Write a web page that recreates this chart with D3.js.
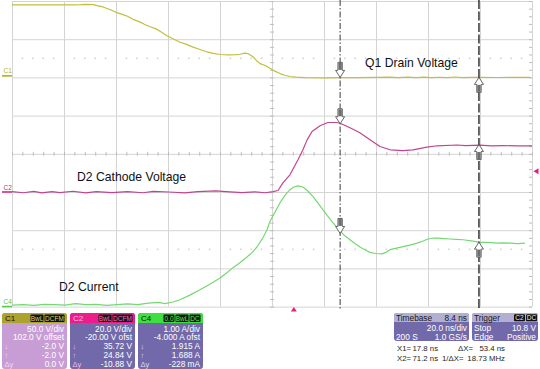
<!DOCTYPE html>
<html><head><meta charset="utf-8">
<script src="https://cdn.jsdelivr.net/npm/d3@7"></script>
<style>
body{margin:0;background:#fff;}
svg{display:block;font-family:"Liberation Sans",Arial,sans-serif;}
</style></head><body>
<svg id="c" width="540" height="369"></svg>
<script>
// ---------------- DATA ----------------
const chNames   = ["C1", "C2", "C4"];
const chVdiv    = [50, 20, 1];          // units per division
const chOffset  = [102, -20, -4];       // offset shown on scope
const chColors  = ["#c4bd3e", "#c2448f", "#74d874"];
const timeDomain = [-108.4, 91.6];      // ns across 10 divisions (20 ns/div)

// C1 : Q1 drain voltage (V)
const c1Trace = [[-108.4,93.0],[-95,93.0],[-85,93.0],[-82,93.2],[-79.6,93.6],[-77,93.3],[-75.7,92.0],[-73.4,90.2],
 [-70.5,86.5],[-68.4,83.2],[-66,80.5],[-64,78.0],[-61.9,74.0],[-59.5,71.0],[-57.5,67.5],[-55.3,64.3],[-53,61.5],
 [-51,57.5],[-48.8,52.5],[-46.5,48.5],[-43.8,44.0],[-41.5,41.5],[-39,38.0],[-36.1,34.5],[-33.5,31.5],[-31,29.5],
 [-28.4,28.0],[-25,27.5],[-22,27.8],[-20.7,28.3],[-18.8,29.8],[-17.5,29.0],[-15.7,25.0],[-14.5,20.5],[-13,16.0],
 [-11,13.5],[-9.2,10.0],[-7.5,6.5],[-5.3,3.0],[-3.5,0.8],[-1.5,-0.8],[1,-1.6],[4.3,-2.2],[11.6,-2.5],[17.8,-2.4],
 [25,-2.2],[32,-2.0],[37,-1.6],[40,-2.2],[44,-1.7],[47,-2.3],[50,-1.6],[53,-2.4],[56,-1.8],[59,-2.2],[62,-1.5],
 [65,-2.3],[68,-1.9],[72,-2.0],[78,-2.1],[85,-2.0],[91,-1.9]];

// C2 : D2 cathode voltage (V)
const c2Trace = [[-108.4,0.2],[-104,-0.4],[-100,0.3],[-97,-0.5],[-93,0.2],[-90,-0.3],[-85,0.4],[-80,-0.5],[-76,0.2],
 [-70,-0.3],[-64,0.2],[-58,-0.4],[-54,0.3],[-48,0.0],[-42,-0.5],[-37,0.2],[-30,0.6],[-26,0.2],[-20,-0.3],[-15,0.1],
 [-11,-0.4],[-8,0.2],[-6.1,0.8],[-4.2,4.8],[-1.5,9.0],[1.6,16.9],[3.5,22.1],[5.1,27.3],[7.0,31.7],[10.1,34.7],
 [13.1,36.4],[16.6,36.4],[17.8,36.0],[21.6,33.6],[25.4,31.0],[29.3,27.3],[33.1,23.8],[37.0,22.1],[42.0,21.7],
 [45.8,22.1],[51.2,23.5],[55.1,24.2],[62.8,24.6],[66,24.3],[71.6,24.5],[76,24.2],[80.4,24.3],[86,24.1],[91.6,24.2]];

// C4 : D2 current (A)
const c4Trace = [[-108.4,0.04],[-104,0.05],[-100,0.03],[-96,0.06],[-92,0.05],[-88,0.04],[-84,0.08],[-80,0.05],
 [-76,0.06],[-72,0.03],[-68,0.05],[-64,0.07],[-60,0.05],[-56,0.09],[-52,0.11],[-49.6,0.08],[-46.5,0.12],[-43.8,0.18],
 [-40,0.3],[-36.1,0.44],[-32,0.6],[-28.4,0.75],[-25.5,0.9],[-23.4,1.02],[-20.5,1.16],[-18,1.3],[-16,1.42],[-14.2,1.56],
 [-11.9,1.8],[-10.3,2.01],[-9.2,2.23],[-7.2,2.48],[-5.3,2.72],[-3.2,2.93],[-1.5,3.06],[0,3.13],[1.6,3.16],[3.5,3.13],
 [5.5,3.02],[7.4,2.88],[9.3,2.71],[11.2,2.53],[13.1,2.36],[15.1,2.19],[17.8,1.98],[19.5,1.86],[21.6,1.75],[23.5,1.65],
 [25.4,1.56],[27.3,1.49],[29.3,1.42],[31.5,1.39],[33.9,1.38],[35.5,1.42],[37,1.49],[39.5,1.53],[42,1.57],[44.7,1.61],
 [47.4,1.66],[49.5,1.71],[51.6,1.77],[53.5,1.79],[55.4,1.79],[57.8,1.78],[60.1,1.77],[62.6,1.76],[65.1,1.75],
 [68.2,1.72],[71.6,1.68],[75,1.68],[78.1,1.66],[80.5,1.67],[83.1,1.66],[86,1.65],[88.9,1.66]];

const cursorTimes = [17.8, 71.2];
const cursorX1Values = [-2.0, 35.72, 1.915];
const cursorX2Values = [-2.0, 24.84, 1.688];
const triggerLevel = 10.8;   // on C2
const triggerTime = 0;

const traceLabels = ["Q1 Drain Voltage", "D2 Cathode Voltage", "D2 Current"];

const panelC1 = ["50.0 V/div", "102.0 V offset", "-2.0 V", "-2.0 V", "0.0 V"];
const panelC2 = ["20.0 V/div", "-20.00 V ofst", "35.72 V", "24.84 V", "-10.88 V"];
const panelC4 = ["1.00 A/div", "-4.000 A ofst", "1.915 A", "1.688 A", "-228 mA"];
const panelBadges = [["BwL","DCFM"],["BwL","DCFM"],["0.0","BwL","DC"]];
const timebaseText = ["Timebase", "8.4 ns", "20.0 ns/div", "200 S", "1.0 GS/s"];
const triggerText = ["Trigger", "C2", "DC", "Stop", "10.8 V", "Edge", "Positive"];
const cursorReadout = [["X1=", "17.8 ns", "\u0394X=", "53.4 ns"], ["X2=", "71.2 ns", "1/\u0394X=", "18.73 MHz"]];

// ---------------- LAYOUT ----------------
const svg = d3.select("#c");
const plotL = 12, plotR = 532, plotT = 1, plotB = 306.6;
const x = d3.scaleLinear().domain(timeDomain).range([plotL, plotR]);
const divX = d3.scaleLinear().domain([0, 10]).range([plotL, plotR]);
const divY = d3.scaleLinear().domain([-4, 4]).range([plotB, plotT]);
const yScales = chVdiv.map((s, i) => d3.scaleLinear().domain([-4 * s - chOffset[i], 4 * s - chOffset[i]]).range([plotB, plotT]));

// grid
const gx = svg.append("g").attr("transform", `translate(0,${plotB})`)
  .call(d3.axisBottom(divX).tickValues(d3.range(0, 11)).tickSize(-(plotB - plotT)).tickFormat(""));
gx.select(".domain").remove();
gx.selectAll("line").attr("stroke", "#d4d4d4").attr("stroke-width", 1);
const gy = svg.append("g").attr("transform", `translate(${plotL},0)`)
  .call(d3.axisLeft(divY).tickValues(d3.range(-4, 5)).tickSize(-(plotR - plotL)).tickFormat(""));
gy.select(".domain").remove();
gy.selectAll("line").attr("stroke", "#d4d4d4").attr("stroke-width", 1);

// minor ticks on centre lines and right border
const minorX = d3.range(0, 51).map(i => i / 5);
const minorY = d3.range(0, 41).map(i => -4 + i / 5);
const mt1 = svg.append("g").attr("transform", `translate(0,${divY(0) + 2})`)
  .call(d3.axisBottom(divX).tickValues(minorX).tickSize(-4).tickFormat(""));
const mt2 = svg.append("g").attr("transform", `translate(${divX(5) + 2},0)`)
  .call(d3.axisLeft(divY).tickValues(minorY).tickSize(4).tickFormat(""));
const mt3 = svg.append("g").attr("transform", `translate(${plotR},0)`)
  .call(d3.axisLeft(divY).tickValues(minorY).tickSize(3).tickFormat(""));
[mt1, mt2, mt3].forEach(g => { g.select(".domain").remove(); g.selectAll("line").attr("stroke", "#bdbdbd"); });

// dotted reference lines
[2.5, -2.5].forEach(lv => {
  svg.append("g").selectAll("rect").data(minorX.filter((v, i) => i % 5 !== 0)).join("rect")
    .attr("x", d => divX(d) - 0.75).attr("y", divY(lv) - 0.75).attr("width", 1.5).attr("height", 1.5)
    .attr("fill", "#cfcfcf");
});

// traces
[c1Trace, c2Trace, c4Trace].forEach((tr, i) => {
  const ys = yScales[i];
  svg.append("path").datum(tr)
    .attr("d", d3.line().x(d => x(d[0])).y(d => ys(d[1])))
    .attr("fill", "none").attr("stroke", chColors[i]).attr("stroke-width", 1.2)
    .attr("stroke-linejoin", "round");
});

// channel ground markers on the left
const markerColors = ["#b5ae2a", "#d0287f", "#4fc84f"];
chNames.forEach((n, i) => {
  const y0 = yScales[i](0);
  svg.append("line").attr("x1", 2).attr("x2", 12).attr("y1", y0).attr("y2", y0)
    .attr("stroke", markerColors[i]).attr("stroke-width", 1.6);
  svg.append("text").attr("x", 3.5).attr("y", y0 - 2.5).text(n)
    .attr("font-size", 6.5).attr("fill", markerColors[i]);
});

// trigger markers
const tx = x(triggerTime);
svg.append("path").attr("d", `M${tx - 3},${plotB + 5} L${tx + 3},${plotB + 5} L${tx},${plotB + 0.5} Z`).attr("fill", "#e3217d");
const ty = yScales[1](triggerLevel);
svg.append("path").attr("d", `M538.5,${ty - 3} L538.5,${ty + 3} L533.5,${ty} Z`).attr("fill", "#e3217d");

// cursors
const cx1 = x(cursorTimes[0]), cx2 = x(cursorTimes[1]);
svg.append("line").attr("x1", cx1).attr("x2", cx1).attr("y1", 0).attr("y2", plotB + 2)
  .attr("stroke", "#3a3a3a").attr("stroke-width", 1).attr("stroke-dasharray", "6,2,1.5,2");
svg.append("line").attr("x1", cx2).attr("x2", cx2).attr("y1", 0).attr("y2", plotB + 2)
  .attr("stroke", "#262626").attr("stroke-width", 1.4).attr("stroke-dasharray", "9,2.5");

function arrow(cx, cy, dir) { // dir=1 down-pointing (tip at bottom), -1 up-pointing
  const s = dir;
  const g = svg.append("g").attr("transform", `translate(${cx},${cy})`);
  g.append("path").attr("d", `M-2.2,${-15 * s} L2.2,${-15 * s} L2.2,${-7 * s} L4.5,${-7 * s} L0,0 L-4.5,${-7 * s} L-2.2,${-7 * s} Z`)
    .attr("fill", "#fff").attr("stroke", "#555").attr("stroke-width", 0.9);
  g.append("rect").attr("x", -1.7).attr("y", s > 0 ? -14.5 : 7.5).attr("width", 3.4).attr("height", 7)
    .attr("fill", "#6e6e6e");
}
cursorX1Values.forEach((v, i) => arrow(cx1, yScales[i](v), 1));
cursorX2Values.forEach((v, i) => arrow(cx2, yScales[i](v), -1));

// trace labels
const lbl = [[365, 67], [77, 181], [59, 291]];
traceLabels.forEach((t, i) => {
  svg.append("text").attr("x", lbl[i][0]).attr("y", lbl[i][1]).text(t)
    .attr("font-size", 12.2).attr("fill", "#111");
});

// ---------------- PANELS ----------------
function chPanel(px, lines, badges, headCol, bodyCol, badgeTxt, name, nameCol, iconCol) {
  const py = 313, w = 65, h = 56, hh = 10;
  const g = svg.append("g");
  g.append("rect").attr("x", px).attr("y", py).attr("width", w).attr("height", h).attr("rx", 3).attr("fill", bodyCol);
  g.append("path").attr("d", `M${px},${py + hh} L${px},${py + 3} Q${px},${py} ${px + 3},${py} L${px + w - 3},${py} Q${px + w},${py} ${px + w},${py + 3} L${px + w},${py + hh} Z`).attr("fill", headCol);
  g.append("text").attr("x", px + 3).attr("y", py + 8).text(name).attr("font-size", 8).attr("fill", nameCol);
  let bx = px + w - 1.5;
  const bw = { "BwL": 14, "DCFM": 21, "DC": 12, "0.0": 12 };
  badges.slice().reverse().forEach(b => {
    const wd = bw[b];
    bx -= wd;
    g.append("rect").attr("x", bx).attr("y", py + 1.5).attr("width", wd - 1).attr("height", 7.5).attr("rx", 1).attr("fill", "#111");
    g.append("text").attr("x", bx + (wd - 1) / 2).attr("y", py + 7.8).attr("text-anchor", "middle").text(b)
      .attr("font-size", 6.5).attr("fill", badgeTxt);
  });
  const base = [331.5, 340.3, 349, 357.8, 366.5];
  lines.forEach((t, i) => {
    g.append("text").attr("x", px + w - 3).attr("y", base[i]).attr("text-anchor", "end").text(t)
      .attr("font-size", 8.3).attr("fill", "#fff");
  });
  ["\u2193", "\u2191", "\u0394y"].forEach((t, i) => {
    g.append("text").attr("x", px + 2.5).attr("y", base[i + 2]).text(t).attr("font-size", 7.5).attr("fill", iconCol);
  });
}
chPanel(2, panelC1, panelBadges[0], "#aba32c", "#c89dd6", "#d8d070", "C1", "#111", "#f4d6f4");
chPanel(70, panelC2, panelBadges[1], "#ec1c8b", "#7169a9", "#ff6fb8", "C2", "#ffc0e0", "#f0b8e8");
chPanel(138, panelC4, panelBadges[2], "#3fdf3f", "#7169a9", "#55ee55", "C4", "#111", "#e0d8f4");

// timebase + trigger
function infoPanel(px, w) {
  const py = 313, h = 28, hh = 9;
  svg.append("rect").attr("x", px).attr("y", py).attr("width", w).attr("height", h).attr("rx", 3).attr("fill", "#7169a9");
  svg.append("path").attr("d", `M${px},${py + hh} L${px},${py + 3} Q${px},${py} ${px + 3},${py} L${px + w - 3},${py} Q${px + w},${py} ${px + w},${py + 3} L${px + w},${py + hh} Z`).attr("fill", "#b3afd3");
}
infoPanel(394, 75);
infoPanel(472, 66);
const tb = svg.append("g").attr("font-size", 8.3);
tb.append("text").attr("x", 396).attr("y", 320.5).text(timebaseText[0]).attr("fill", "#1a1a1a");
tb.append("text").attr("x", 467).attr("y", 320.5).attr("text-anchor", "end").text(timebaseText[1]).attr("fill", "#1a1a1a");
tb.append("text").attr("x", 467).attr("y", 331).attr("text-anchor", "end").text(timebaseText[2]).attr("fill", "#fff");
tb.append("text").attr("x", 396).attr("y", 339.5).text(timebaseText[3]).attr("fill", "#fff");
tb.append("text").attr("x", 467).attr("y", 339.5).attr("text-anchor", "end").text(timebaseText[4]).attr("fill", "#fff");
tb.append("text").attr("x", 474).attr("y", 320.5).text(triggerText[0]).attr("fill", "#1a1a1a");
[[triggerText[1], 514], [triggerText[2], 526]].forEach(([t, bx]) => {
  tb.append("rect").attr("x", bx).attr("y", 314.3).attr("width", 11).attr("height", 7).attr("rx", 1).attr("fill", "#111");
  tb.append("text").attr("x", bx + 5.5).attr("y", 320.2).attr("text-anchor", "middle").text(t).attr("font-size", 6.5).attr("fill", "#eee");
});
tb.append("text").attr("x", 474).attr("y", 331).text(triggerText[3]).attr("fill", "#fff");
tb.append("text").attr("x", 536).attr("y", 331).attr("text-anchor", "end").text(triggerText[4]).attr("fill", "#fff");
tb.append("text").attr("x", 474).attr("y", 339.5).text(triggerText[5]).attr("fill", "#fff");
tb.append("text").attr("x", 536).attr("y", 339.5).attr("text-anchor", "end").text(triggerText[6]).attr("fill", "#fff");

// cursor readout
const cr = svg.append("g").attr("font-size", 7.8).attr("fill", "#1e1e1e");
cursorReadout.forEach((r, i) => {
  const yb = 350.5 + i * 10.5;
  cr.append("text").attr("x", 397).attr("y", yb).text(r[0]);
  cr.append("text").attr("x", 412.5).attr("y", yb).text(r[1]);
  cr.append("text").attr("x", i === 0 ? 458 : 442).attr("y", yb).text(r[2]);
  cr.append("text").attr("x", 505).attr("y", yb).attr("text-anchor", "end").text(r[3]);
});
</script>
</body></html>
